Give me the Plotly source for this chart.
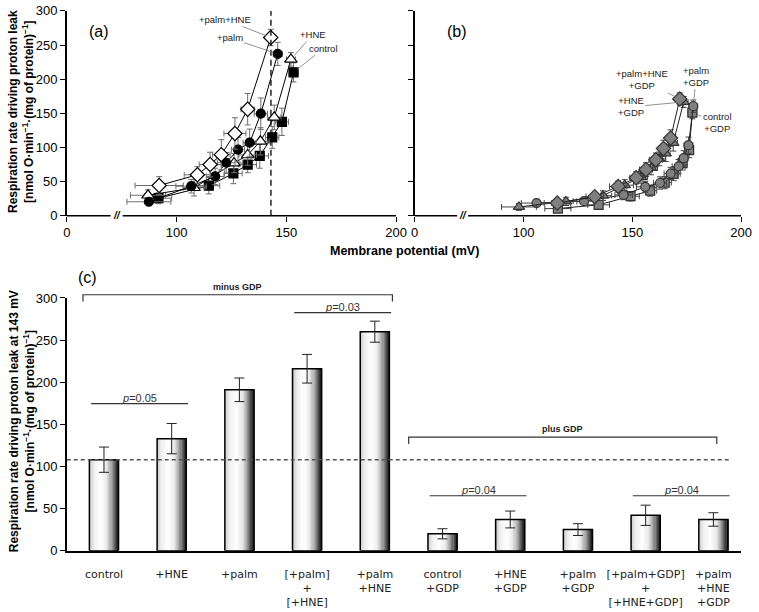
import plotly.graph_objects as go

# ---------------- data: panel (a) ----------------
ctrl_x = [91.8, 114.7, 125.9, 132.4, 137.9, 143.6, 148.0, 153.3]
ctrl_y = [25.7, 44.0, 62.0, 75.0, 87.6, 114.8, 137.6, 210.0]
ctrl_xe = [6, 5, 4, 4, 4, 3, 3, 2]
ctrl_ye = [8, 12, 15, 12, 18, 16, 20, 14]

hne_x = [87.0, 108.0, 126.2, 132.4, 138.2, 144.5, 152.1]
hne_y = [30.0, 41.0, 77.0, 89.0, 109.0, 144.0, 229.0]
hne_xe = [8, 5, 4, 4, 4, 3, 2]
hne_ye = [8, 12, 14, 15, 20, 18, 10]

palm_x = [87.4, 106.7, 117.6, 122.6, 128.0, 133.3, 138.4, 146.1]
palm_y = [20.5, 43.3, 57.6, 77.6, 96.7, 107.0, 149.5, 237.0]
palm_xe = [10, 7, 4, 4, 3, 3, 3, 2]
palm_ye = [6, 10, 12, 15, 18, 20, 23, 17]

ph_x = [92.1, 109.5, 115.3, 120.4, 126.6, 132.4, 142.9]
ph_y = [44.3, 60.0, 75.0, 89.5, 120.5, 156.0, 261.0]
ph_xe = [11, 6, 5, 4, 5, 3, 2]
ph_ye = [13, 12, 18, 22, 23, 23, 12]

# ---------------- data: panel (b) ----------------
phg_x = [115.5, 132.7, 143.5, 151.8, 156.3, 160.8, 164.3, 167.6, 171.8]
phg_y = [18.6, 28.0, 43.0, 55.7, 67.6, 81.9, 98.6, 113.8, 171.0]
phg_xe = [6, 4, 4, 3, 3, 3, 2, 2, 2]
phg_ye = [5, 6, 8, 9, 10, 10, 12, 12, 9]

hg_x = [97.9, 119.5, 136.5, 146.5, 154.0, 158.6, 162.3, 165.3, 168.8, 173.6]
hg_y = [12.9, 21.0, 29.5, 44.8, 56.7, 70.0, 83.3, 91.4, 106.7, 166.7]
hg_xe = [8, 5, 4, 4, 3, 3, 3, 2, 2, 2]
hg_ye = [5, 6, 7, 8, 9, 10, 10, 12, 12, 8]

pg_x = [106.0, 127.8, 146.0, 155.9, 162.7, 167.6, 171.3, 173.6, 175.8, 178.0]
pg_y = [18.6, 21.4, 30.5, 42.4, 48.0, 61.9, 72.4, 84.3, 103.3, 160.5]
pg_xe = [7, 5, 4, 4, 3, 3, 3, 2, 2, 2]
pg_ye = [5, 5, 7, 8, 9, 9, 10, 11, 12, 9]

cg_x = [115.8, 134.5, 149.2, 158.2, 164.9, 169.0, 173.1, 176.1, 177.6]
cg_y = [10.5, 16.0, 28.6, 36.7, 48.6, 61.4, 77.0, 96.0, 151.0]
cg_xe = [6, 5, 4, 3, 3, 3, 2, 2, 2]
cg_ye = [5, 5, 7, 8, 9, 10, 10, 11, 9]

# ---------------- data: panel (c) ----------------
bar_labels = ["control", "+HNE", "+palm", "[+palm]<br>+<br>[+HNE]", "+palm<br>+HNE",
              "control<br>+GDP", "+HNE<br>+GDP", "+palm<br>+GDP",
              "[+palm+GDP]<br>+<br>[+HNE+GDP]", "+palm<br>+HNE<br>+GDP"]
bar_vals = [108, 133, 191, 216, 260, 20, 37, 25, 42, 37]
bar_errs = [15, 18, 14, 17, 12.5, 6, 10, 7, 12, 8]
ref_potential = 143

# p-value comparisons: (first index, second index, label, line height)
p_tests = [(0, 1, "0.05", 174.5), (3, 4, "0.03", 282.6), (5, 6, "0.04", 65.2), (8, 9, "0.04", 65.2)]

FONT = "Liberation Sans, Arial, sans-serif"
fig = go.Figure()

def series(x, y, xe, ye, symbol, fill, size, ax, ay, line_col, err_col, edge):
    fig.add_trace(go.Scatter(
        x=x, y=y, mode="lines+markers", xaxis=ax, yaxis=ay, showlegend=False,
        line=dict(color=line_col, width=1),
        marker=dict(symbol=symbol, size=size, color=fill, line=dict(color=edge, width=1.2)),
        error_x=dict(type="data", array=xe, color=err_col, thickness=1, width=3),
        error_y=dict(type="data", array=ye, color=err_col, thickness=1, width=3),
    ))

# ---------- panel a ----------
series(ctrl_x, ctrl_y, ctrl_xe, ctrl_ye, "square", "black", 9, "x", "y", "black", "#6e6e6e", "black")
series(hne_x, hne_y, hne_xe, hne_ye, "triangle-up", "white", 11, "x", "y", "black", "#6e6e6e", "black")
series(palm_x, palm_y, palm_xe, palm_ye, "circle", "black", 9, "x", "y", "black", "#6e6e6e", "black")
series(ph_x, ph_y, ph_xe, ph_ye, "diamond", "white", 11, "x", "y", "black", "#6e6e6e", "black")

# ---------- panel b ----------
series(cg_x, cg_y, cg_xe, cg_ye, "square", "#7f7f7f", 9, "x2", "y2", "#222", "#444", "#333")
series(pg_x, pg_y, pg_xe, pg_ye, "circle", "#7f7f7f", 9, "x2", "y2", "#222", "#444", "#333")
series(hg_x, hg_y, hg_xe, hg_ye, "triangle-up", "#7f7f7f", 10, "x2", "y2", "#222", "#444", "#333")
series(phg_x, phg_y, phg_xe, phg_ye, "diamond", "#7f7f7f", 11, "x2", "y2", "#222", "#444", "#333")

# ---------- panel c (gradient bars) ----------
idx = list(range(len(bar_vals)))
W = 0.43
N = 26
stops = [(0.0, 200), (0.18, 240), (0.4, 255), (0.6, 235), (0.75, 175), (0.88, 100), (1.0, 25)]

def grey(t):
    for (t0, g0), (t1, g1) in zip(stops[:-1], stops[1:]):
        if t0 <= t <= t1:
            g = int(round(g0 + (g1 - g0) * (t - t0) / (t1 - t0)))
            return f"rgb({g},{g},{g})"
    return "rgb(25,25,25)"

for k in range(N):
    fig.add_trace(go.Bar(
        x=idx, y=bar_vals, xaxis="x3", yaxis="y3", showlegend=False, hoverinfo="skip",
        width=W / N * 1.15, offset=-W / 2 + k * W / N,
        marker=dict(color=grey((k + 0.5) / N), line=dict(width=0)),
    ))
fig.add_trace(go.Bar(
    x=idx, y=bar_vals, xaxis="x3", yaxis="y3", showlegend=False, width=W,
    marker=dict(color="rgba(0,0,0,0)", line=dict(color="black", width=1.5)),
    error_y=dict(type="data", array=bar_errs, color="#222", thickness=1, width=5),
))

# ---------- layout ----------
H, Wd = 612, 759
def px(v):
    return v / Wd
def py(v):
    return 1 - v / H

ab_y_dom = [py(214), py(4)]
c_y_dom = [py(557.3), py(298.3)]

axis_common = dict(showgrid=False, zeroline=False, color="black",
                   tickfont=dict(family=FONT, size=13, color="black"))

fig.update_layout(
    width=759, height=612, margin=dict(l=0, r=0, t=0, b=0),
    paper_bgcolor="white", plot_bgcolor="white", barmode="overlay",
    xaxis=dict(domain=[px(64), px(400)], range=[50, 200], anchor="y",
               tickvals=[50, 100, 150, 200], ticktext=["0", "100", "150", "200"],
               ticks="outside", ticklen=5, tickwidth=1.2, showline=False, **axis_common),
    yaxis=dict(domain=ab_y_dom, range=[0, 300], anchor="x", tickvals=list(range(0, 301, 50)),
               ticks="outside", ticklen=5, tickwidth=1.2, showline=True, linewidth=1.5, linecolor="black",
               **axis_common),
    xaxis2=dict(domain=[px(419), px(752)], range=[50, 200], anchor="y2",
                tickvals=[50, 100, 150, 200], ticktext=["0", "100", "150", "200"],
                ticks="outside", ticklen=5, tickwidth=1.2, showline=False, **axis_common),
    yaxis2=dict(domain=ab_y_dom, range=[0, 300], anchor="x2", tickvals=list(range(0, 301, 50)),
                ticks="outside", ticklen=5, tickwidth=1.2, showticklabels=False,
                showline=True, linewidth=1.5, linecolor="black", **axis_common),
    xaxis3=dict(domain=[px(64), px(752)], range=[-0.55, 9.41], anchor="y3",
                tickvals=idx, ticktext=bar_labels, ticks="", showline=True, linewidth=1.5,
                linecolor="black", showgrid=False, zeroline=False, ticklabelstandoff=12,
                tickfont=dict(family="DejaVu Sans, Verdana, sans-serif", size=11, color="#222")),
    yaxis3=dict(domain=c_y_dom, range=[0, 300], anchor="x3", tickvals=list(range(0, 301, 50)),
                ticks="outside", ticklen=5, tickwidth=1.2, showline=True, linewidth=1.5,
                linecolor="black", **axis_common),
)

shapes = []
ann = []
# broken x-axis lines for panels a and b
for xr, y0, seg in (("x", py(214), [(50, 70), (75.5, 200)]), ("x2", py(214), [(50, 69.5), (74.5, 200)])):
    for a, b in seg:
        shapes.append(dict(type="line", xref=xr, yref="paper", x0=a, x1=b, y0=y0, y1=y0,
                           line=dict(color="black", width=1.5)))
for xr, xb in (("x", 72.7), ("x2", 72.0)):
    ann.append(dict(xref=xr, yref="paper", x=xb, y=py(214), text="<b><i>//</i></b>", showarrow=False,
                    xanchor="center", yanchor="middle", font=dict(family=FONT, size=10, color="black")))

# reference potential dashed line
shapes.append(dict(type="line", xref="x", yref="y", x0=ref_potential, x1=ref_potential, y0=0, y1=300,
                   line=dict(color="black", width=1.3, dash="6px,4px")))
# control-level dashed line in panel c
shapes.append(dict(type="line", xref="x3", yref="y3", x0=-0.55, x1=9.23, y0=bar_vals[0], y1=bar_vals[0],
                   line=dict(color="#555", width=1.5, dash="4px,3px")))

# brackets
for (a, b, yb, label) in ((-0.31, 4.26, 295, "minus GDP"), (4.5, 9.05, 441, "plus GDP")):
    shapes.append(dict(type="path", xref="x3", yref="paper",
                       path=f"M {a},{py(yb + 7)} L {a},{py(yb)} L {b},{py(yb)} L {b},{py(yb + 7)}",
                       line=dict(color="#333", width=1.2)))
    ann.append(dict(xref="x3", yref="paper", x=(a + b) / 2, y=py(yb - 1), text=f"<b>{label}</b>",
                    showarrow=False, xanchor="center", yanchor="bottom",
                    font=dict(family=FONT, size=9, color="#222")))

# p-value lines
for i, j, p, yv in p_tests:
    a, b = i - 0.19, j + 0.24
    shapes.append(dict(type="line", xref="x3", yref="y3", x0=a, x1=b, y0=yv, y1=yv,
                       line=dict(color="#333", width=1.2)))
    ann.append(dict(xref="x3", yref="y3", x=(a + b) / 2, y=yv, text="<i>p</i>=" + p, showarrow=False,
                    xanchor="center", yanchor="bottom", yshift=-2,
                    font=dict(family=FONT, size=11, color="#333")))

# panel letters
for t, x, y in (("(a)", 97, 25), ("(b)", 462, 25), ("(c)", 85, 277)):
    ann.append(dict(xref="paper", yref="paper", x=px(x), y=py(y), text=t, showarrow=False,
                    xanchor="center", yanchor="middle", font=dict(family=FONT, size=16, color="black")))

# axis titles
ann.append(dict(xref="paper", yref="paper", x=px(409), y=py(250), text="<b>Membrane potential (mV)</b>",
                showarrow=False, xanchor="center", yanchor="middle",
                font=dict(family=FONT, size=12.5, color="black")))
unit = "[nmol O·min<sup>−1</sup>·(mg of protein)<sup>−1</sup>]"
ann.append(dict(xref="paper", yref="paper", x=px(18), y=py(107), textangle=-90,
                xanchor="center", yanchor="middle",
                text=f"<b>Respiration rate driving proton leak<br>{unit}</b>",
                showarrow=False, font=dict(family=FONT, size=12, color="black")))
ann.append(dict(xref="paper", yref="paper", x=px(18), y=py(425), textangle=-90,
                xanchor="center", yanchor="middle",
                text=f"<b>Respiration rate driving proton leak at 143 mV<br>{unit}</b>",
                showarrow=False, font=dict(family=FONT, size=12, color="black")))

# series labels with leader lines
def label(xr, yr, x, y, text, ax, ay):
    ann.append(dict(xref=xr, yref=yr, x=x, y=y, text=text, showarrow=True, arrowhead=0,
                    arrowwidth=0.8, arrowcolor="#777", ax=ax, ay=ay, standoff=5,
                    font=dict(family=FONT, size=9.5, color="#222")))

label("x", "y", ph_x[-1], ph_y[-1], "+palm+HNE", -46, -18)
label("x", "y", palm_x[-1], palm_y[-1], "+palm", -48, -16)
label("x", "y", hne_x[-1], hne_y[-1], "+HNE", 22, -25)
label("x", "y", ctrl_x[-1], ctrl_y[-1], "control", 30, -24)
label("x2", "y2", phg_x[-1], phg_y[-1], "+palm+HNE<br>+GDP", -38, -19)
label("x2", "y2", hg_x[-1], hg_y[-1], "+HNE<br>+GDP", -53, 5)
label("x2", "y2", pg_x[-1], pg_y[-1], "+palm<br>+GDP", 3, -30)
label("x2", "y2", cg_x[-1], cg_y[-1], "control<br>+GDP", 25, 10)

fig.update_layout(shapes=shapes, annotations=ann)
fig.write_html("out.html", config={"displayModeBar": False},
               post_script="document.body.style.margin='0';document.body.style.overflow='hidden';")
